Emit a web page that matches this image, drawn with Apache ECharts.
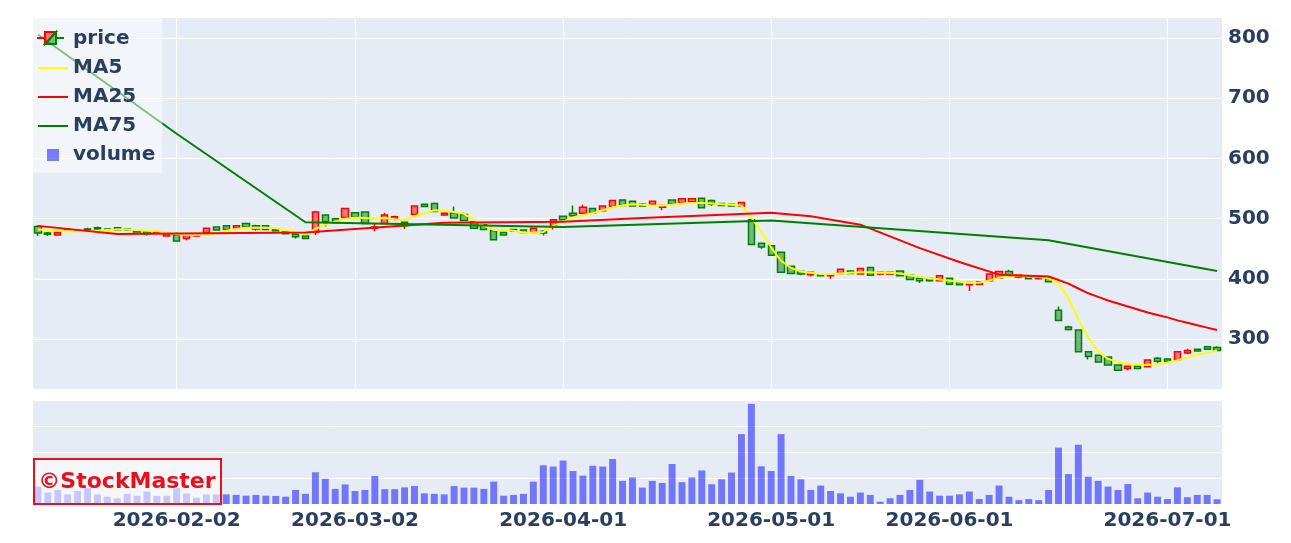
<!DOCTYPE html>
<html>
<head>
<meta charset="utf-8">
<script src="https://cdn.jsdelivr.net/npm/echarts@6/dist/echarts.min.js"></script>
<style>
  html, body { margin: 0; padding: 0; background: #fff; }
  #chart { width: 1291px; height: 543px; }
</style>
</head>
<body>
<div id="chart"></div>
<script>
// trading days (category axis, weekends/holidays not shown)
const dates = [
  '2026-01-13','2026-01-14','2026-01-15','2026-01-16','2026-01-19','2026-01-20','2026-01-21','2026-01-22','2026-01-23','2026-01-26',
  '2026-01-27','2026-01-28','2026-01-29','2026-01-30','2026-02-02','2026-02-03','2026-02-04','2026-02-05','2026-02-06','2026-02-09',
  '2026-02-10','2026-02-12','2026-02-13','2026-02-16','2026-02-17','2026-02-18','2026-02-19','2026-02-20','2026-02-24','2026-02-25',
  '2026-02-26','2026-02-27','2026-03-02','2026-03-03','2026-03-04','2026-03-05','2026-03-06','2026-03-09','2026-03-10','2026-03-11',
  '2026-03-12','2026-03-13','2026-03-16','2026-03-17','2026-03-18','2026-03-19','2026-03-23','2026-03-24','2026-03-25','2026-03-26',
  '2026-03-27','2026-03-30','2026-03-31','2026-04-01','2026-04-02','2026-04-03','2026-04-06','2026-04-07','2026-04-08','2026-04-09',
  '2026-04-10','2026-04-13','2026-04-14','2026-04-15','2026-04-16','2026-04-17','2026-04-20','2026-04-21','2026-04-22','2026-04-23',
  '2026-04-24','2026-04-27','2026-04-28','2026-04-30','2026-05-01','2026-05-07','2026-05-08','2026-05-11','2026-05-12','2026-05-13',
  '2026-05-14','2026-05-15','2026-05-18','2026-05-19','2026-05-20','2026-05-21','2026-05-22','2026-05-25','2026-05-26','2026-05-27',
  '2026-05-28','2026-05-29','2026-06-01','2026-06-02','2026-06-03','2026-06-04','2026-06-05','2026-06-08','2026-06-09','2026-06-10',
  '2026-06-11','2026-06-12','2026-06-15','2026-06-16','2026-06-17','2026-06-18','2026-06-19','2026-06-22','2026-06-23','2026-06-24',
  '2026-06-25','2026-06-26','2026-06-29','2026-06-30','2026-07-01','2026-07-02','2026-07-03','2026-07-06','2026-07-07','2026-07-08'
];
const tickDates = ['2026-02-02','2026-03-02','2026-04-01','2026-05-01','2026-06-01','2026-07-01'];

const openP = [
  487,476,473,482,480,483,485,483,485,483, 479,478,476,471,473,467,471,477,486,488,
  484,492,488,488,482,478,474,471,478,506, 500,502,510,511,484,492,499,494,507,524,
  525,506,510,507,495,490,480,477,482,481, 477,479,487,504,509,509,517,513,520,531,
  529,524,524,519,531,527,528,534,530,525, 524,521,498,459,455,444,421,412,407,408,
  405,409,413,408,419,408,408,413,406,401, 401,397,401,394,390,391,397,402,412,403,
  405,400,401,348,320,315,279,273,270,257, 251,255,254,268,267,266,277,283,287,286
];
const closeP = [
  476,474,477,480,479,481,483,481,481,481, 478,475,478,476,463,472,474,484,481,482,
  488,486,483,482,480,475,470,467,511,495, 493,517,503,492,486,506,503,488,521,520,
  512,509,501,497,484,482,465,473,479,477, 484,476,498,498,505,519,509,521,530,522,
  521,521,529,522,524,533,533,518,524,522, 521,527,457,453,439,411,409,408,411,405,
  408,416,409,417,406,411,411,405,399,397, 397,405,391,390,394,395,408,412,405,407,
  400,404,395,331,316,279,271,262,257,248, 255,251,265,263,263,279,281,280,283,281
];
const lowP = [
  471,471,472,479,478,479,481,480,480,480, 477,472,474,470,462,464,470,476,480,481,
  483,485,480,481,479,474,467,466,473,487, 492,501,502,491,479,491,497,483,506,519,
  511,505,500,496,483,481,464,472,478,476, 476,472,482,497,501,508,508,512,519,521,
  520,520,523,514,523,526,527,517,521,521, 520,520,456,450,438,410,408,406,404,404,
  400,408,408,407,405,406,407,404,398,393, 395,396,390,389,380,390,396,401,403,401,
  399,399,394,330,314,278,266,261,256,247, 248,250,253,260,262,265,275,279,282,280
];
const highP = [
  489,478,478,483,482,485,487,484,486,484, 480,480,480,477,477,473,475,485,487,489,
  489,493,490,489,483,479,475,472,513,507, 501,518,511,512,492,510,505,495,522,525,
  527,510,520,510,496,491,481,478,483,482, 485,481,499,505,522,523,518,522,531,532,
  530,526,530,523,532,534,534,535,532,526, 525,528,499,460,456,445,422,413,412,409,
  409,417,414,418,420,412,412,414,407,402, 402,406,402,395,395,396,409,413,415,408,
  406,405,402,354,322,316,280,274,271,258, 256,256,266,270,268,280,284,284,289,288
];
const ma5 = [
  482,481,480,479,479,479,480,481,482,482, 481,480,479,477,474,473,473,474,476,480,
  483,485,485,485,484,481,478,474,483,490, 495,500,502,501,500,501,499,498,504,509,
  514,513,511,508,498,488,481,481,480,477, 477,478,488,495,502,506,509,514,519,522,
  524,523,522,522,523,525,526,526,525,524, 523,522,502,478,452,430,418,412,410,408,
  408,409,410,411,411,410,410,409,406,403, 401,399,397,395,393,394,397,402,405,406,
  404,403,401,392,368,333,302,279,267,262, 259,257.5,257,258,261,265,270,274,277,281
];
// MA25 / MA75 only known at these days, drawn straight between them
const ma25 = [
  ['2026-01-13',488],['2026-01-23',474.5],['2026-02-20',477],['2026-03-13',493],['2026-04-01',495],
  ['2026-04-13',501],['2026-05-01',510],['2026-05-12',504],['2026-05-19',490],['2026-05-27',451],
  ['2026-06-02',428],['2026-06-08',407],['2026-06-15',404],['2026-06-16',398],['2026-06-17',392],
  ['2026-06-18',384],['2026-06-19',376],['2026-06-22',370],['2026-06-23',364],['2026-06-24',359],
  ['2026-06-25',354],['2026-06-26',349],['2026-06-29',344],['2026-06-30',340],['2026-07-01',336],
  ['2026-07-02',331],['2026-07-03',327],['2026-07-06',323],['2026-07-07',319],['2026-07-08',315]
];
const ma75 = [
  ['2026-01-13',806],['2026-02-02',641],['2026-02-20',494],['2026-04-01',486],
  ['2026-05-01',497],['2026-06-15',464],['2026-07-08',413]
];
// volume, millions of shares
const volume = [
  0.67,0.44,0.54,0.37,0.50,0.61,0.37,0.28,0.22,0.39, 0.32,0.48,0.31,0.32,0.61,0.41,0.24,0.37,0.37,0.37,
  0.35,0.32,0.35,0.32,0.31,0.28,0.54,0.39,1.22,0.97, 0.58,0.75,0.50,0.54,1.08,0.57,0.57,0.64,0.69,0.41,
  0.39,0.37,0.69,0.63,0.63,0.58,0.86,0.32,0.35,0.39, 0.86,1.49,1.44,1.67,1.27,1.09,1.47,1.44,1.73,0.89,
  1.02,0.63,0.89,0.81,1.54,0.84,1.02,1.29,0.76,0.95, 1.21,2.69,3.85,1.45,1.27,2.69,1.08,0.95,0.54,0.71,
  0.50,0.41,0.28,0.44,0.35,0.09,0.22,0.35,0.54,0.93, 0.48,0.32,0.32,0.37,0.48,0.19,0.35,0.71,0.28,0.15,
  0.19,0.15,0.54,2.17,1.15,2.28,1.05,0.89,0.67,0.54, 0.77,0.22,0.44,0.28,0.19,0.64,0.26,0.35,0.35,0.18
];

const candles = dates.map((d, i) => [openP[i], closeP[i], lowP[i], highP[i]]);
const isTick = (idx, val) => tickDates.indexOf(val) >= 0;
const textColor = '#2a3f5f';
const fontFam = '"DejaVu Sans", Verdana, sans-serif';
const noDot = { opacity: 0 };

let chart = echarts.init(document.getElementById('chart'));
let option = {
  animation: false,
  backgroundColor: '#fff',
  grid: [
    { left: 33, right: 69, top: 17, height: 372, backgroundColor: '#e5ecf6', show: true, borderWidth: 0 },
    { left: 33, right: 69, top: 400, height: 104, backgroundColor: '#e5ecf6', show: true, borderWidth: 0 }
  ],
  legend: {
    orient: 'vertical',
    left: 33,
    top: 17,
    padding: [12, 7, 8, 4],
    itemGap: 9,
    itemWidth: 30,
    itemHeight: 12,
    backgroundColor: 'rgba(255,255,255,0.5)',
    textStyle: { fontFamily: fontFam, fontWeight: 'bold', fontSize: 20, color: textColor },
    data: [
      { name: 'price', icon: 'rect', itemStyle: { color: 'rgba(0,0,0,0)', borderWidth: 0 } },
      { name: 'MA5', itemStyle: noDot },
      { name: 'MA25', itemStyle: noDot },
      { name: 'MA75', itemStyle: noDot },
      { name: 'volume', icon: 'path://M0,0h10v10h-10z' }
    ]
  },
  xAxis: [
    {
      type: 'category', gridIndex: 0, data: dates, boundaryGap: true,
      axisLine: { show: false }, axisTick: { show: false }, axisLabel: { show: false },
      splitLine: { show: true, interval: isTick, alignWithLabel: true, lineStyle: { color: '#fff', width: 1 } }
    },
    {
      type: 'category', gridIndex: 1, data: dates, boundaryGap: true,
      axisLine: { show: false }, axisTick: { show: false },
      axisLabel: {
        interval: isTick, margin: 7, hideOverlap: false,
        fontFamily: fontFam, fontWeight: 'bold', fontSize: 20, color: textColor
      },
      splitLine: { show: false }
    }
  ],
  yAxis: [
    {
      type: 'value', gridIndex: 0, position: 'right', min: 217, max: 835, scale: true,
      axisLine: { show: false }, axisTick: { show: false },
      axisLabel: {
        margin: 6, showMinLabel: false, showMaxLabel: false, padding: [4, 0, 0, 0],
        fontFamily: fontFam, fontWeight: 'bold', fontSize: 20, color: textColor
      },
      splitLine: { lineStyle: { color: '#fff', width: 1 } }
    },
    {
      type: 'value', gridIndex: 1, position: 'right', min: 0, max: 4, interval: 1,
      axisLine: { show: false }, axisTick: { show: false }, axisLabel: { show: false },
      splitLine: { lineStyle: { color: '#fff', width: 1 } }
    }
  ],
  graphic: [
    // candlestick legend icon
    { type: 'line', z: 20, shape: { x1: 37, y1: 38, x2: 45, y2: 38 }, style: { stroke: '#ff0000', lineWidth: 2 } },
    { type: 'line', z: 20, shape: { x1: 56, y1: 38, x2: 64, y2: 38 }, style: { stroke: '#008000', lineWidth: 2 } },
    { type: 'polygon', z: 20, shape: { points: [[45, 32], [56, 32], [45, 44]] }, style: { fill: 'rgba(255,0,0,0.5)', stroke: '#ff0000', lineWidth: 2 } },
    { type: 'polygon', z: 20, shape: { points: [[56, 32], [56, 44], [45, 44]] }, style: { fill: 'rgba(0,128,0,0.5)', stroke: '#008000', lineWidth: 2 } },
    // watermark
    { type: 'rect', z: 20, shape: { x: 34, y: 459, width: 187, height: 45 }, style: { fill: 'rgba(255,255,255,0.6)', stroke: '#e8101a', lineWidth: 2 } },
    { type: 'text', z: 21, style: { text: '©StockMaster', x: 127, y: 482, align: 'center', verticalAlign: 'middle', font: 'bold 22px "DejaVu Sans"', fill: '#e8101a' } }
  ],
  series: [
    {
      name: 'price', type: 'candlestick', xAxisIndex: 0, yAxisIndex: 0, data: candles,
      barWidth: '68%',
      itemStyle: {
        color: 'rgba(255,0,0,0.5)', borderColor: '#ff0000',
        color0: 'rgba(0,128,0,0.5)', borderColor0: '#008000',
        borderWidth: 1.5
      }
    },
    { name: 'MA5', type: 'line', xAxisIndex: 0, yAxisIndex: 0, data: ma5, symbol: 'none', lineStyle: { color: '#ffff00', width: 2 }, itemStyle: { color: '#ffff00' } },
    { name: 'MA25', type: 'line', xAxisIndex: 0, yAxisIndex: 0, data: ma25, symbol: 'none', connectNulls: true, lineStyle: { color: '#ff0000', width: 2 }, itemStyle: { color: '#ff0000' } },
    { name: 'MA75', type: 'line', xAxisIndex: 0, yAxisIndex: 0, data: ma75, symbol: 'none', connectNulls: true, lineStyle: { color: '#008000', width: 2 }, itemStyle: { color: '#008000' } },
    {
      name: 'volume', type: 'bar', xAxisIndex: 1, yAxisIndex: 1, data: volume,
      barWidth: '70%', itemStyle: { color: 'rgba(0,0,255,0.5)' }
    }
  ]
};
chart.setOption(option);
</script>
</body>
</html>
